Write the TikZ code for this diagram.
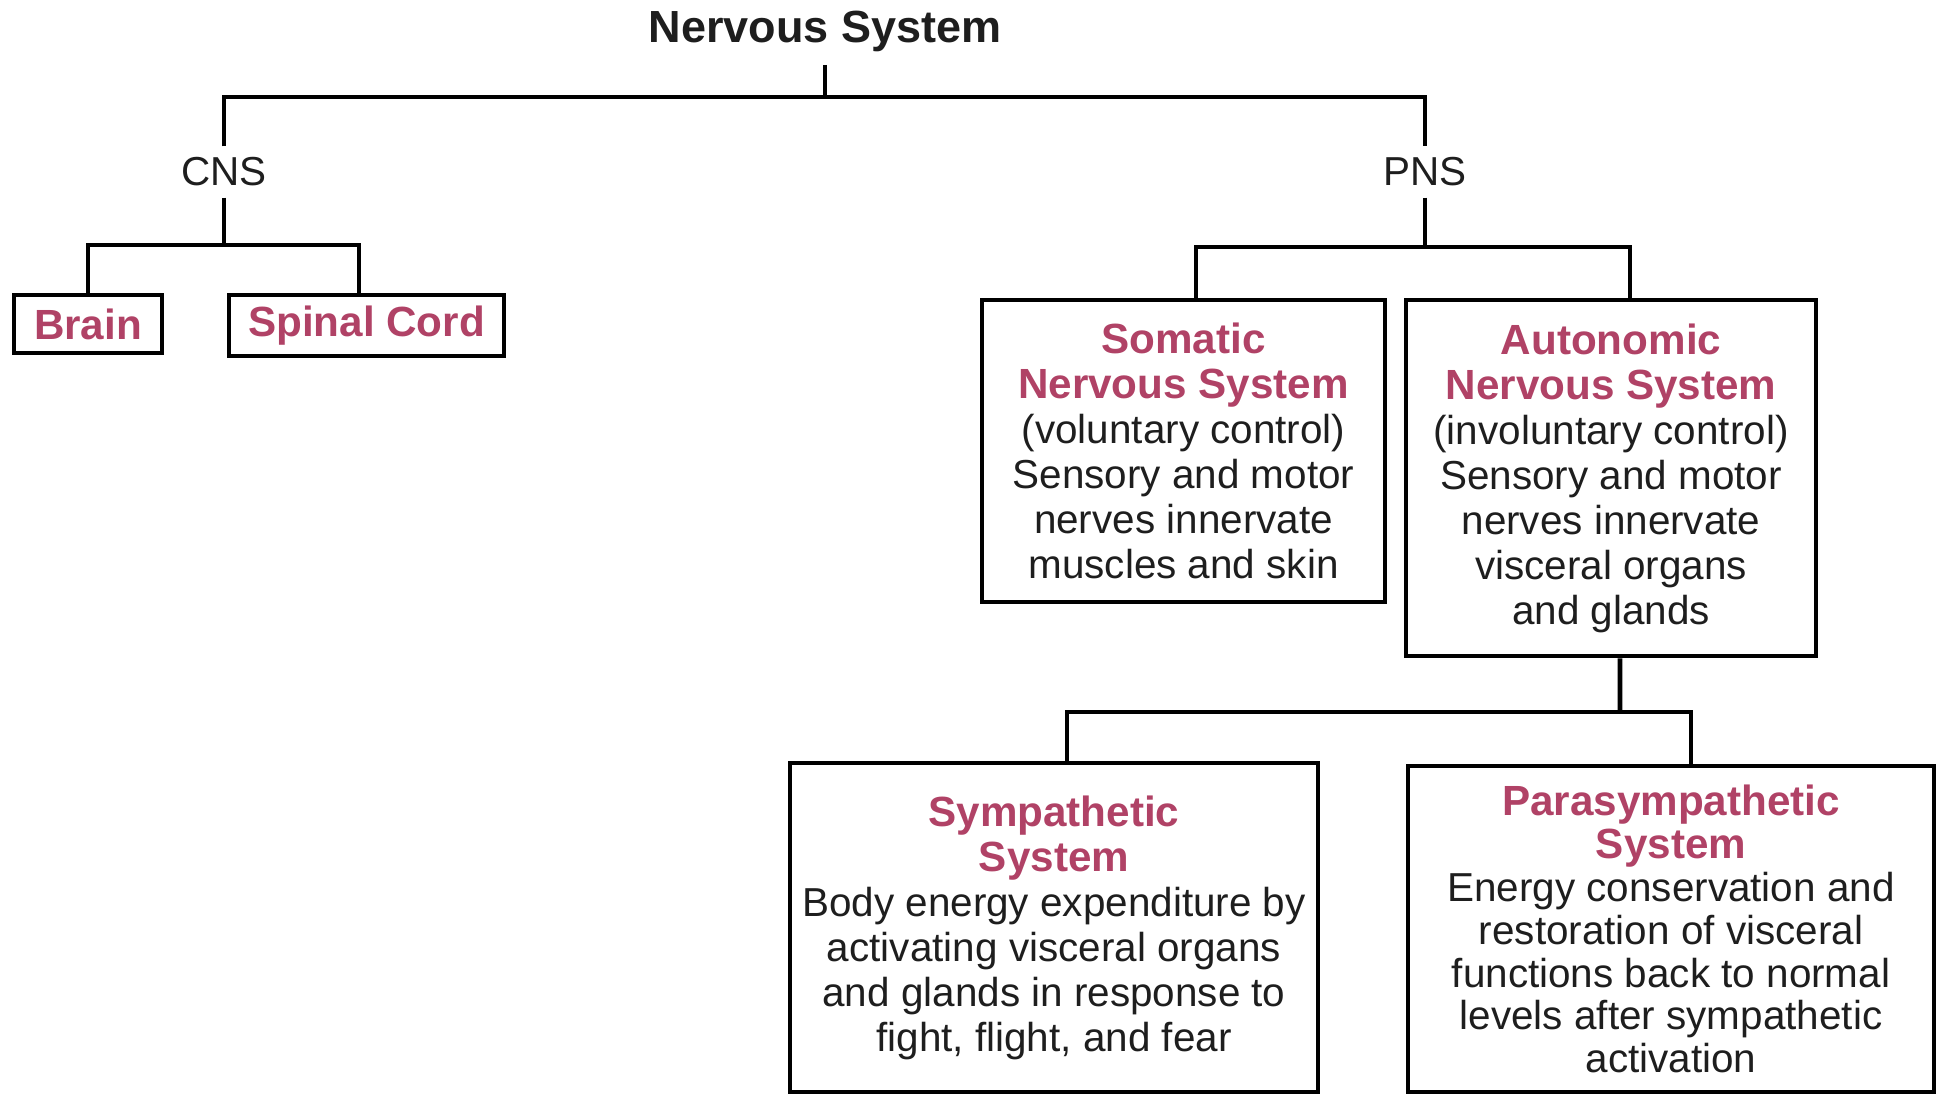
\documentclass[tikz,border=0pt]{standalone}
\usepackage{fontspec}
\setmainfont{Liberation Sans}
\definecolor{headpink}{RGB}{176,66,102}
\definecolor{bodygray}{RGB}{30,30,30}
\newcommand{\headtext}[1]{{\color{headpink}\fontsize{12}{12.8}\selectfont\bfseries #1}}
\tikzset{
  conn/.style={line width=1.3pt},
  boxframe/.style={draw, line width=1.3pt, align=center, inner sep=0pt},
  namebox/.style={boxframe, text=headpink, font=\fontsize{12}{12.8}\selectfont\bfseries},
  infobox/.style={boxframe, text=bodygray, font=\fontsize{11.5}{12.8}\selectfont},
  branchlabel/.style={inner sep=3pt, text=bodygray, font=\fontsize{11.5}{13}\selectfont},
}
\begin{document}
\begin{tikzpicture}[x=0.01cm,y=-0.01cm]
\useasboundingbox (0,0) rectangle (1939,1094);
% top of the tree
\node[anchor=base, text=bodygray, font=\fontsize{12.8}{15}\selectfont\bfseries] (title) at (825,43) {Nervous System};
\node[branchlabel] (cns) at (224,172) {CNS};
\node[branchlabel] (pns) at (1425,172) {PNS};
% central nervous system
\node[namebox, minimum width=1.48cm, minimum height=0.58cm] (brain) at (88,324) {Brain};
\node[namebox, minimum width=2.75cm, minimum height=0.61cm] (spinal) at (366.5,325.5) {Spinal Cord};
% peripheral nervous system
\node[infobox, minimum width=4.03cm, minimum height=3.02cm] (somatic) at (1183.5,451) {\headtext{Somatic}\\\headtext{Nervous System}\\(voluntary control)\\Sensory and motor\\nerves innervate\\muscles and skin};
\node[infobox, minimum width=4.10cm, minimum height=3.56cm] (autonomic) at (1611,478) {\headtext{Autonomic}\\\headtext{Nervous System}\\(involuntary control)\\Sensory and motor\\nerves innervate\\visceral organs\\and glands};
% autonomic divisions
\node[infobox, minimum width=5.28cm, minimum height=3.29cm] (sympathetic) at (1054,927.5) {\headtext{Sympathetic}\\\headtext{System}\\Body energy expenditure by\\activating visceral organs\\and glands in response to\\fight, flight, and fear};
\node[infobox, font=\fontsize{11.5}{12.2}\selectfont, minimum width=5.26cm, minimum height=3.26cm] (parasympathetic) at (1671,929) {\headtext{Parasympathetic}\\\headtext{System}\\Energy conservation and\\restoration of visceral\\functions back to normal\\levels after sympathetic\\activation};
% forks
\coordinate (nsfork) at (825,97);
\coordinate (cnsfork) at (224,245);
\coordinate (pnsfork) at (1425,247);
\coordinate (ansfork) at (1620,712);
\draw[conn] (title.south) -- (nsfork);
\draw[conn] (cns.north) |- (nsfork) -| (pns.north);
\draw[conn] (cns.south) -- (cnsfork);
\draw[conn] (brain.north) |- (cnsfork) -| ([xshift=-0.075cm]spinal.north);
\draw[conn] (pns.south) -- (pnsfork);
\draw[conn] ([xshift=0.125cm]somatic.north) |- (pnsfork) -| ([xshift=0.19cm]autonomic.north);
\draw[conn] ([xshift=0.09cm]autonomic.south) -- (ansfork);
\draw[conn] ([xshift=0.13cm]sympathetic.north) |- (ansfork) -| ([xshift=0.2cm]parasympathetic.north);
\end{tikzpicture}
\end{document}
